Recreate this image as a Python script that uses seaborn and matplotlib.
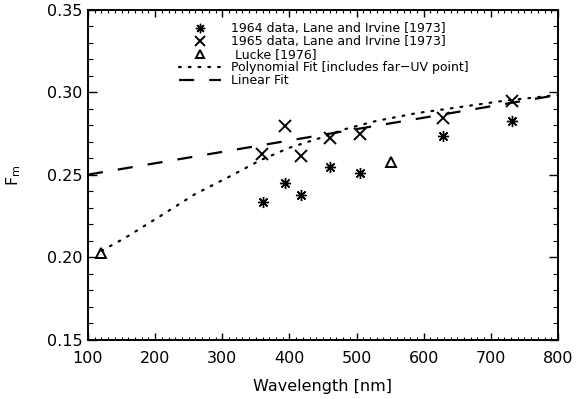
import matplotlib
matplotlib.use("Agg")
import matplotlib.pyplot as plt
from matplotlib.ticker import MultipleLocator
import seaborn as sns
import pandas as pd

# ---- data ----
wl_1964 = [360, 394, 418, 460, 505, 629, 732]
F_1964 = [0.2334, 0.2453, 0.2379, 0.2547, 0.2510, 0.2735, 0.2830]

wl_1965 = [359, 394, 418, 460, 505, 629, 732]
F_1965 = [0.2628, 0.2794, 0.2615, 0.2725, 0.2747, 0.2843, 0.2951]

wl_lucke = [120, 552]
F_lucke = [0.2024, 0.2579]

poly_wl = [120, 155, 207, 259, 314, 356, 400, 445, 483, 530, 590, 660, 720, 800]
poly_F = [0.2040, 0.2118, 0.2249, 0.2383, 0.2497, 0.2588, 0.2665, 0.2723, 0.2778, 0.2828, 0.2875, 0.2915, 0.2950, 0.2985]

lin_wl = [100, 800]
lin_F = [0.2502, 0.2985]

xticks = [100, 200, 300, 400, 500, 600, 700, 800]
yticks = [0.15, 0.20, 0.25, 0.30, 0.35]

labels = ["1964 data, Lane and Irvine [1973]",
          "1965 data, Lane and Irvine [1973]",
          " Lucke [1976]",
          "Polynomial Fit [includes far\u2212UV point]",
          "Linear Fit"]

sns.set_theme(style="ticks")
plt.rcParams["font.family"] = ["DejaVu Sans"]
plt.rcParams["axes.linewidth"] = 1.4
for k in ["text.color", "axes.labelcolor", "xtick.color", "ytick.color", "axes.edgecolor"]:
    plt.rcParams[k] = "black"

fig = plt.figure(figsize=(5.77, 3.99), dpi=100)
ax = fig.add_axes([0.1525, 0.148, 0.8145, 0.827])

d64 = pd.DataFrame({"wl": wl_1964, "F": F_1964})
d65 = pd.DataFrame({"wl": wl_1965, "F": F_1965})
dlu = pd.DataFrame({"wl": wl_lucke, "F": F_lucke})
dpo = pd.DataFrame({"wl": poly_wl, "F": poly_F})
dli = pd.DataFrame({"wl": lin_wl, "F": lin_F})

sns.lineplot(data=dpo, x="wl", y="F", ax=ax, color="black", lw=1.6,
             label=labels[3], sort=True, zorder=2)
sns.lineplot(data=dli, x="wl", y="F", ax=ax, color="black", lw=1.6,
             label=labels[4], zorder=2)
lines = ax.get_lines()
lines[0].set_dashes((0.8, 3.6))
lines[0].set_dash_capstyle("round")
lines[1].set_dashes((6.8, 6.8))

ax.plot(d64["wl"], d64["F"], ls="none", marker=(8, 2, 0), ms=8, mew=1.0,
        color="black", label=labels[0], zorder=3)
ax.plot(d65["wl"], d65["F"], ls="none", marker="x", ms=9, mew=1.4,
        color="black", label=labels[1], zorder=3)
ax.plot(dlu["wl"], dlu["F"], ls="none", marker="^", ms=7, mew=1.4,
        mfc="none", mec="black", label=labels[2], zorder=3)

ax.set_xlim(100, 800)
ax.set_ylim(0.15, 0.35)
ax.set_xticks(xticks)
ax.set_yticks(yticks)
ax.set_yticklabels([f"{v:.2f}" for v in yticks])
ax.xaxis.set_minor_locator(MultipleLocator(10))
ax.yaxis.set_minor_locator(MultipleLocator(0.01))
ax.tick_params(axis="x", which="major", direction="in", length=4.7, width=1.0,
               top=True, bottom=True, labelsize=11.5, pad=8)
ax.tick_params(axis="x", which="minor", direction="in", length=2.4, width=0.8,
               top=True, bottom=True)
ax.tick_params(axis="y", which="major", direction="in", length=6.8, width=1.0,
               left=True, right=True, labelsize=11.5, pad=4)
ax.tick_params(axis="y", which="minor", direction="in", length=3.4, width=0.8,
               left=True, right=True)
for s in ax.spines.values():
    s.set_visible(True)
    s.set_color("black")

ax.set_xlabel("Wavelength [nm]", fontsize=11.5, labelpad=9)
ax.set_ylabel("F$_{\\rm m}$", fontsize=11.5, labelpad=17)

handles, labs = ax.get_legend_handles_labels()
hd = dict(zip(labs, handles))
leg = ax.legend([hd[l] for l in labels], labels, loc="upper left",
                bbox_to_anchor=(0.175, 0.99), frameon=False, fontsize=9,
                handlelength=3.4, handletextpad=0.75, labelspacing=0.0,
                borderpad=0.2, markerscale=0.85)

fig.savefig("out.png", dpi=100, facecolor="white")
